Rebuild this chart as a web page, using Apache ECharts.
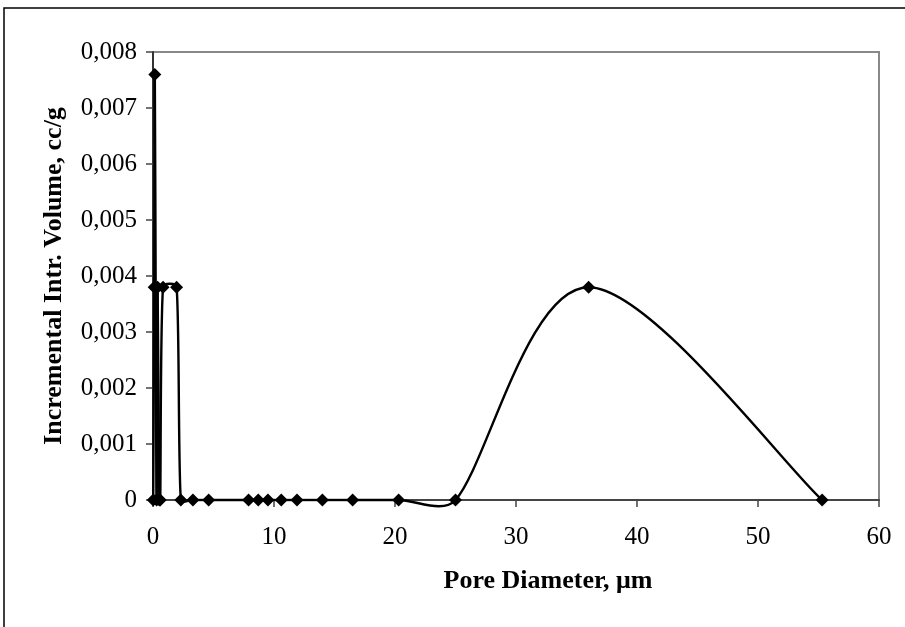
<!DOCTYPE html>
<html>
<head>
<meta charset="utf-8">
<script src="https://cdn.jsdelivr.net/npm/echarts@6/dist/echarts.min.js"></script>
<style>html,body{margin:0;padding:0;background:#fff;}#c{width:905px;height:627px;}</style>
</head>
<body>
<div id="c"></div>
<script>
// Pore diameter (µm) and incremental intrusion volume (cc/g), in data order
var poreDiameter = [0.02, 0.10, 0.15, 0.22, 0.30, 0.38, 0.52, 0.60, 0.83, 1.95, 2.30, 3.30, 4.60, 7.90, 8.70, 9.50, 10.60, 11.90, 14.00, 16.50, 20.30, 25.00, 36.00, 55.30];
var incVolume   = [0, 0.0038, 0.0076, 0.0038, 0, 0.0038, 0, 0, 0.0038, 0.0038, 0, 0, 0, 0, 0, 0, 0, 0, 0, 0, 0, 0, 0.0038, 0];
var xTickLabels = ['0', '10', '20', '30', '40', '50', '60'];
var yTickLabels = ['0', '0,001', '0,002', '0,003', '0,004', '0,005', '0,006', '0,007', '0,008'];

var points = poreDiameter.map(function (d, i) { return [d, incVolume[i]]; });
var font = '"Liberation Serif", "Times New Roman", serif';

function dist(a, b) { return Math.sqrt((a[0] - b[0]) * (a[0] - b[0]) + (a[1] - b[1]) * (a[1] - b[1])); }

// Excel-style smoothed segment between point i and i+1 (pixel space via api.coord)
function renderSegment(params, api) {
  var i = params.dataIndex;
  var n = points.length;
  if (i >= n - 1) return null;
  var P = function (k) { k = Math.max(0, Math.min(n - 1, k)); return api.coord(points[k]); };
  var p0 = P(i - 1), p1 = P(i), p2 = P(i + 1), p3 = P(i + 2);
  var d12 = dist(p1, p2), d02 = dist(p0, p2), d13 = dist(p1, p3);
  var f1 = d02 > 0 ? Math.min(1 / 6, d12 / (3 * d02)) : 0;
  var f2 = d13 > 0 ? Math.min(1 / 6, d12 / (3 * d13)) : 0;
  return {
    type: 'bezierCurve',
    shape: {
      x1: p1[0], y1: p1[1], x2: p2[0], y2: p2[1],
      cpx1: p1[0] + (p2[0] - p0[0]) * f1, cpy1: p1[1] + (p2[1] - p0[1]) * f1,
      cpx2: p2[0] - (p3[0] - p1[0]) * f2, cpy2: p2[1] - (p3[1] - p1[1]) * f2
    },
    style: {stroke: '#000', lineWidth: 2.4, fill: null}
  };
}

var chart = echarts.init(document.getElementById('c'), null, {renderer: 'canvas'});
chart.setOption({
  backgroundColor: '#fff',
  animation: false,
  title: {
    text: 'Pore Diameter, μm',
    left: 543, top: 563, textAlign: 'center',
    textStyle: {fontFamily: font, fontSize: 26, fontWeight: 'bold', color: '#000'}
  },
  graphic: [{
    type: 'rect', silent: true,
    shape: {x: 4, y: 8, width: 1000, height: 700},
    style: {fill: 'none', stroke: '#000', lineWidth: 1.5}
  }],
  grid: {left: 153, right: 26, top: 52, bottom: 127, show: true, borderColor: '#888', borderWidth: 2},
  xAxis: {
    type: 'value', min: 0, max: 60, interval: 10,
    axisLine: {show: true, onZero: false, lineStyle: {color: '#444', width: 2}},
    axisTick: {show: true, inside: false, length: 7, lineStyle: {color: '#444', width: 1.5}},
    splitLine: {show: false},
    axisLabel: {
      margin: 25, fontFamily: font, fontSize: 25, color: '#000',
      formatter: function (v) { return xTickLabels[Math.round(v / 10)]; }
    }
  },
  yAxis: {
    type: 'value', min: 0, max: 0.008, interval: 0.001,
    name: 'Incremental Intr. Volume, cc/g',
    nameLocation: 'middle', nameRotate: 90, nameGap: 86,
    nameTextStyle: {fontFamily: font, fontSize: 26, fontWeight: 'bold', color: '#000'},
    axisLine: {show: true, lineStyle: {color: '#333', width: 2}},
    axisTick: {show: true, inside: false, length: 7, lineStyle: {color: '#444', width: 1.5}},
    splitLine: {show: false},
    axisLabel: {
      margin: 16, fontFamily: font, fontSize: 25, color: '#000',
      formatter: function (v) { return yTickLabels[Math.round(v * 1000)]; }
    }
  },
  series: [{
    type: 'custom',
    data: points,
    clip: false,
    renderItem: renderSegment,
    z: 2
  }, {
    type: 'scatter',
    data: points,
    symbol: 'diamond',
    symbolSize: 13,
    itemStyle: {color: '#000', opacity: 1},
    z: 3
  }]
});
</script>
</body>
</html>
